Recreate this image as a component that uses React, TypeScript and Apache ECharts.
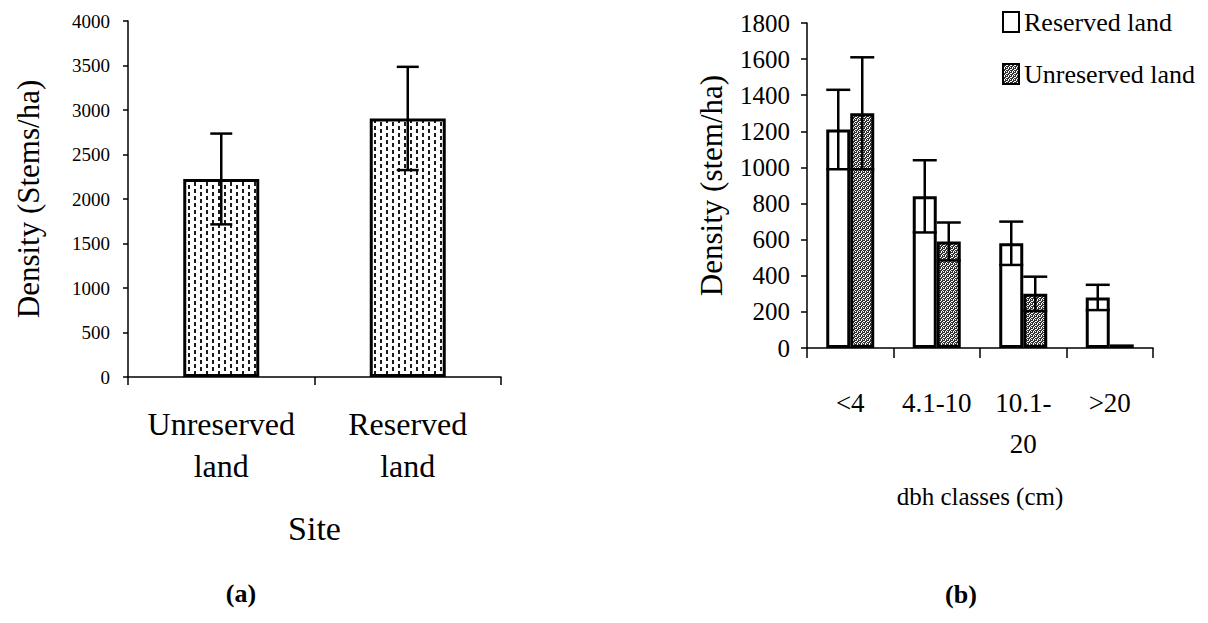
import React, { useEffect, useRef } from 'react';
import * as echarts from 'echarts';

// ---- Panel (a) data ----
const siteCategories = ['Unreserved\nland', 'Reserved\nland'];
const siteDensity = [2225, 2905];
const siteError = [510, 580];

// ---- Panel (b) data ----
const dbhCategories = ['<4', '4.1-10', '10.1-\n20', '>20'];
const reservedDensity = [1210, 840, 580, 280];
const reservedError = [220, 200, 120, 70];
const unreservedDensity = [1300, 590, 300, 20];
const unreservedError = [310, 105, 95, 0];

const FONT = 'Liberation Serif';

function makeDashPattern(): HTMLCanvasElement {
  const c = document.createElement('canvas');
  c.width = 12;
  c.height = 14;
  const g = c.getContext('2d')!;
  g.fillStyle = '#ffffff';
  g.fillRect(0, 0, 12, 14);
  g.fillStyle = '#1a1a1a';
  g.fillRect(2, 0, 2, 4);
  g.fillRect(2, 7, 2, 4);
  g.fillRect(8, 3, 2, 4);
  g.fillRect(8, 10, 2, 4);
  return c;
}

function makeStipplePattern(): HTMLCanvasElement {
  const c = document.createElement('canvas');
  c.width = 4;
  c.height = 4;
  const g = c.getContext('2d')!;
  g.fillStyle = '#ffffff';
  g.fillRect(0, 0, 4, 4);
  g.fillStyle = '#333333';
  const px = [
    [0, 0], [2, 0], [3, 0],
    [1, 1], [2, 1],
    [0, 2], [1, 2], [3, 2],
    [0, 3], [2, 3],
  ];
  px.forEach(([x, y]) => g.fillRect(x, y, 1, 1));
  return c;
}

function errorRender(halfBar: number, capHalf: number) {
  return (params: any, api: any) => {
    const idx = api.value(0);
    const val = api.value(1);
    const err = api.value(2);
    const sign = api.value(3);
    if (!err) return { type: 'group', children: [] };
    const x = api.coord([idx, val])[0] + sign * halfBar;
    const top = api.coord([idx, val + err])[1];
    const bot = api.coord([idx, val - err])[1];
    const style = { stroke: '#000', lineWidth: 2.5 };
    return {
      type: 'group',
      children: [
        { type: 'line', shape: { x1: x, y1: top, x2: x, y2: bot }, style },
        { type: 'line', shape: { x1: x - capHalf, y1: top, x2: x + capHalf, y2: top }, style },
        { type: 'line', shape: { x1: x - capHalf, y1: bot, x2: x + capHalf, y2: bot }, style },
      ],
    };
  };
}

const plain = (v: number) => String(v);

export default function App() {
  const ref = useRef<HTMLDivElement>(null);

  useEffect(() => {
    if (!ref.current) return;
    const chart = echarts.init(ref.current, undefined, { renderer: 'svg' });
    const dash = { image: makeDashPattern(), repeat: 'repeat' };
    const stipple = { image: makeStipplePattern(), repeat: 'repeat' };

    const axisLine = { show: true, lineStyle: { color: '#000', width: 1.5 } };

    const option: any = {
      animation: false,
      grid: [
        { left: 128, top: 21, width: 373, height: 356 },
        { left: 807, top: 23, width: 346, height: 325 },
      ],
      xAxis: [
        {
          type: 'category',
          gridIndex: 0,
          data: siteCategories,
          axisLine,
          axisTick: { show: true, length: 8, alignWithLabel: false, lineStyle: { color: '#000', width: 1.5 } },
          axisLabel: { interval: 0, fontFamily: FONT, fontSize: 32, lineHeight: 42, color: '#000', margin: 26 },
          name: 'Site',
          nameLocation: 'middle',
          nameGap: 134,
          nameTextStyle: { fontFamily: FONT, fontSize: 34, color: '#000' },
        },
        {
          type: 'category',
          gridIndex: 1,
          data: dbhCategories,
          axisLine,
          axisTick: { show: true, length: 10, alignWithLabel: false, lineStyle: { color: '#000', width: 1.5 } },
          axisLabel: { interval: 0, fontFamily: FONT, fontSize: 27, lineHeight: 41, color: '#000', margin: 34 },
          name: 'dbh classes (cm)',
          nameLocation: 'middle',
          nameGap: 136,
          nameTextStyle: { fontFamily: FONT, fontSize: 25, color: '#000' },
        },
      ],
      yAxis: [
        {
          type: 'value',
          gridIndex: 0,
          min: 0,
          max: 4000,
          interval: 500,
          axisLine,
          axisTick: { show: true, length: 5, lineStyle: { color: '#000', width: 1.5 } },
          splitLine: { show: false },
          axisLabel: { formatter: plain, fontFamily: FONT, fontSize: 19, color: '#000', margin: 18 },
          name: 'Density (Stems/ha)',
          nameLocation: 'middle',
          nameGap: 84,
          nameRotate: 90,
          nameTextStyle: { fontFamily: FONT, fontSize: 31, color: '#000' },
        },
        {
          type: 'value',
          gridIndex: 1,
          min: 0,
          max: 1800,
          interval: 200,
          axisLine,
          axisTick: { show: true, length: 6, lineStyle: { color: '#000', width: 1.5 } },
          splitLine: { show: false },
          axisLabel: { formatter: plain, fontFamily: FONT, fontSize: 25, color: '#000', margin: 17 },
          name: 'Density (stem/ha)',
          nameLocation: 'middle',
          nameGap: 80,
          nameRotate: 90,
          nameTextStyle: { fontFamily: FONT, fontSize: 31, color: '#000' },
        },
      ],
      legend: {
        data: ['Reserved land', 'Unreserved land'],
        orient: 'vertical',
        left: 997,
        top: 2,
        itemWidth: 16,
        itemHeight: 20,
        itemGap: 22,
        icon: 'rect',
        textStyle: { fontFamily: FONT, fontSize: 26, lineHeight: 30, color: '#000' },
      },
      series: [
        {
          name: 'Density',
          type: 'bar',
          xAxisIndex: 0,
          yAxisIndex: 0,
          barWidth: 76,
          data: siteDensity,
          itemStyle: { color: dash, borderColor: '#000', borderWidth: 3 },
        },
        {
          name: 'site-err',
          type: 'custom',
          xAxisIndex: 0,
          yAxisIndex: 0,
          z: 5,
          renderItem: errorRender(0, 11),
          encode: { x: 0, y: 1 },
          data: siteDensity.map((v, i) => [i, v, siteError[i], 0]),
        },
        {
          name: 'Reserved land',
          type: 'bar',
          xAxisIndex: 1,
          yAxisIndex: 1,
          barWidth: 24,
          barGap: '0%',
          data: reservedDensity,
          itemStyle: { color: '#fff', borderColor: '#000', borderWidth: 3 },
        },
        {
          name: 'Unreserved land',
          type: 'bar',
          xAxisIndex: 1,
          yAxisIndex: 1,
          barWidth: 24,
          barGap: '0%',
          data: unreservedDensity,
          itemStyle: { color: stipple, borderColor: '#000', borderWidth: 3 },
        },
        {
          name: 'res-err',
          type: 'custom',
          xAxisIndex: 1,
          yAxisIndex: 1,
          z: 5,
          renderItem: errorRender(12, 12),
          encode: { x: 0, y: 1 },
          data: reservedDensity.map((v, i) => [i, v, reservedError[i], -1]),
        },
        {
          name: 'unres-err',
          type: 'custom',
          xAxisIndex: 1,
          yAxisIndex: 1,
          z: 5,
          renderItem: errorRender(12, 12),
          encode: { x: 0, y: 1 },
          data: unreservedDensity.map((v, i) => [i, v, unreservedError[i], 1]),
        },
      ],
      graphic: [
        {
          type: 'text',
          x: 241,
          y: 593,
          style: { text: '(a)', fontFamily: FONT, fontSize: 26, fontWeight: 'bold', fill: '#000', textAlign: 'center', textVerticalAlign: 'middle' },
        },
        {
          type: 'text',
          x: 961,
          y: 594,
          style: { text: '(b)', fontFamily: FONT, fontSize: 26, fontWeight: 'bold', fill: '#000', textAlign: 'center', textVerticalAlign: 'middle' },
        },
      ],
    };

    chart.setOption(option);
    return () => chart.dispose();
  }, []);

  return (
    <div
      ref={ref}
      style={{ position: 'fixed', left: 0, top: 0, width: 1208, height: 623, background: '#fff' }}
    />
  );
}
